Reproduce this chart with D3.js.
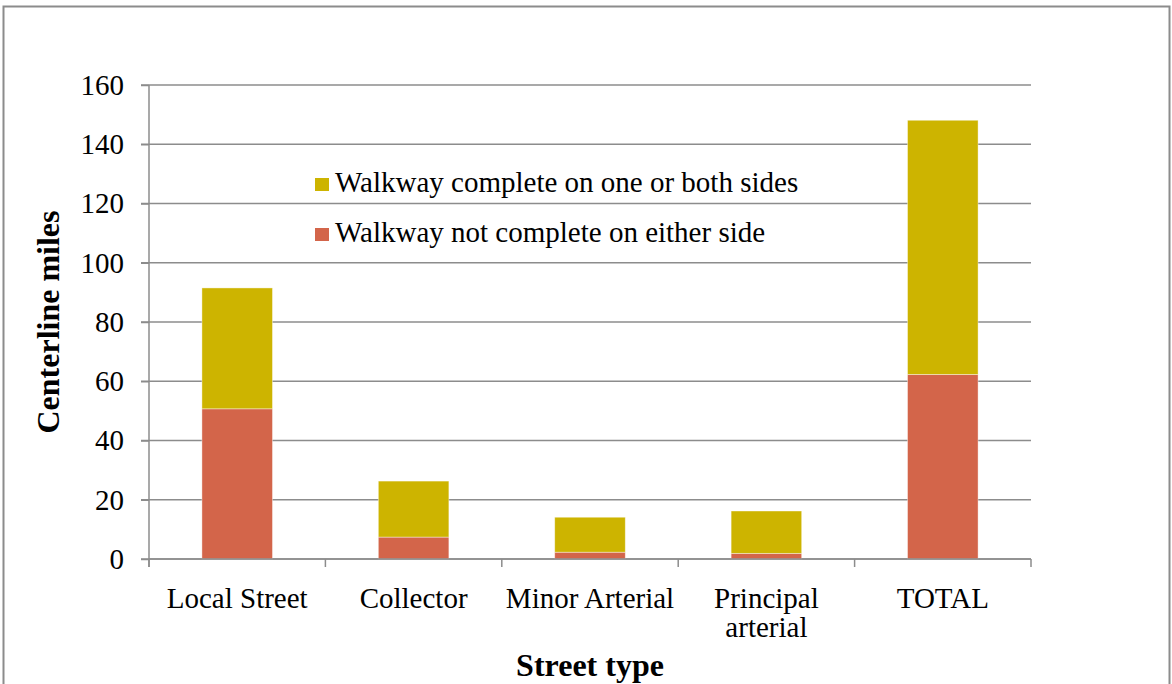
<!DOCTYPE html>
<html>
<head>
<meta charset="utf-8">
<script src="https://cdn.jsdelivr.net/npm/d3@7"></script>
<style>
  body { margin: 0; background: #fff; }
  text { font-family: "Liberation Serif", "DejaVu Serif", serif; fill: #000; }
</style>
</head>
<body>
<svg width="1172" height="684"></svg>
<script>
var categories = ["Local Street", "Collector", "Minor Arterial", "Principal arterial", "TOTAL"];
var notComplete = [50.7, 7.4, 2.3, 1.9, 62.3];
var complete = [40.8, 18.9, 11.8, 14.3, 85.8];
var seriesNames = ["Walkway complete on one or both sides", "Walkway not complete on either side"];
var yTicks = [0, 20, 40, 60, 80, 100, 120, 140, 160];

var colorComplete = "#cdb400";
var colorNot = "#d3654a";
var gridColor = "#8c8c8c";

var svg = d3.select("svg");
var margin = {top: 85, right: 141, bottom: 125, left: 149};
var width = +svg.attr("width") - margin.left - margin.right;
var height = +svg.attr("height") - margin.top - margin.bottom;

// outer chart border
svg.append("rect")
    .attr("x", 3.5).attr("y", 6.5)
    .attr("width", 1166).attr("height", 700)
    .attr("fill", "none")
    .attr("stroke", "#8c8c8c")
    .attr("stroke-width", 2);

var g = svg.append("g").attr("transform", "translate(" + margin.left + "," + margin.top + ")");

var x = d3.scaleBand()
    .domain(categories)
    .range([0, width])
    .paddingInner(0.6)
    .paddingOuter(0.3);

var y = d3.scaleLinear()
    .domain([0, 160])
    .range([height, 0]);

// gridlines
g.selectAll(".grid")
    .data(yTicks)
    .enter().append("line")
    .attr("class", "grid")
    .attr("x1", -8).attr("x2", width)
    .attr("y1", function(d){ return y(d); })
    .attr("y2", function(d){ return y(d); })
    .attr("stroke", gridColor)
    .attr("stroke-width", 1.5);

// stacked bars
var rows = categories.map(function(c, i){
    return {cat: c, notComplete: notComplete[i], complete: complete[i]};
});
var stack = d3.stack().keys(["notComplete", "complete"])(rows);
var colors = {notComplete: colorNot, complete: colorComplete};

g.selectAll(".layer")
    .data(stack)
    .enter().append("g")
    .attr("class", "layer")
    .attr("fill", function(d){ return colors[d.key]; })
    .selectAll("rect")
    .data(function(d){ return d; })
    .enter().append("rect")
    .attr("x", function(d){ return x(d.data.cat); })
    .attr("width", x.bandwidth())
    .attr("y", function(d){ return y(d[1]); })
    .attr("height", function(d){ return y(d[0]) - y(d[1]); })
    .attr("stroke", "#fff")
    .attr("stroke-opacity", 0.5)
    .attr("stroke-width", 0.8);

// y axis
var yAxis = g.append("g")
    .call(d3.axisLeft(y).tickValues(yTicks).tickSize(8).tickPadding(17));
yAxis.select(".domain").attr("stroke", gridColor).attr("stroke-width", 1.5)
    .attr("d", "M0," + (height + 8) + "V0");
yAxis.selectAll(".tick line").attr("stroke", gridColor).attr("stroke-width", 1.5);
yAxis.selectAll(".tick text")
    .style("font-family", "'Liberation Serif', serif")
    .style("font-size", "29px")
    .attr("fill", "#000");

// x axis with boundary ticks
var xAxisG = g.append("g").attr("transform", "translate(0," + height + ")");
xAxisG.append("line")
    .attr("x1", 0).attr("x2", width)
    .attr("stroke", gridColor).attr("stroke-width", 1.5);
var step = width / categories.length;
xAxisG.selectAll(".xtick")
    .data(d3.range(categories.length + 1))
    .enter().append("line")
    .attr("x1", function(d){ return d * step; })
    .attr("x2", function(d){ return d * step; })
    .attr("y1", 0).attr("y2", 8)
    .attr("stroke", gridColor).attr("stroke-width", 1.5);

var labelLines = {
    "Principal arterial": ["Principal", "arterial"]
};
categories.forEach(function(c){
    var lines = labelLines[c] || [c];
    var t = xAxisG.append("text")
        .attr("text-anchor", "middle")
        .attr("font-size", "29px")
        .attr("transform", "translate(" + (x(c) + x.bandwidth() / 2) + ",49)");
    lines.forEach(function(l, i){
        t.append("tspan").attr("x", 0).attr("dy", i === 0 ? 0 : 29).text(l);
    });
});

// axis titles
svg.append("text")
    .attr("text-anchor", "middle")
    .attr("font-weight", "bold")
    .attr("font-size", "32px")
    .attr("x", margin.left + width / 2)
    .attr("y", 676)
    .text("Street type");

svg.append("text")
    .attr("text-anchor", "middle")
    .attr("font-weight", "bold")
    .attr("font-size", "32px")
    .attr("transform", "translate(59," + (margin.top + height / 2) + ") rotate(-90)")
    .text("Centerline miles");

// legend
var legend = svg.append("g").attr("transform", "translate(315,178)");
var legendColors = [colorComplete, colorNot];
seriesNames.forEach(function(name, i){
    var item = legend.append("g").attr("transform", "translate(0," + (i * 50) + ")");
    item.append("rect")
        .attr("width", 14).attr("height", 13)
        .attr("fill", legendColors[i]);
    item.append("text")
        .attr("x", 20).attr("y", 14)
        .attr("font-size", "29px")
        .text(name);
});
</script>
</body>
</html>
